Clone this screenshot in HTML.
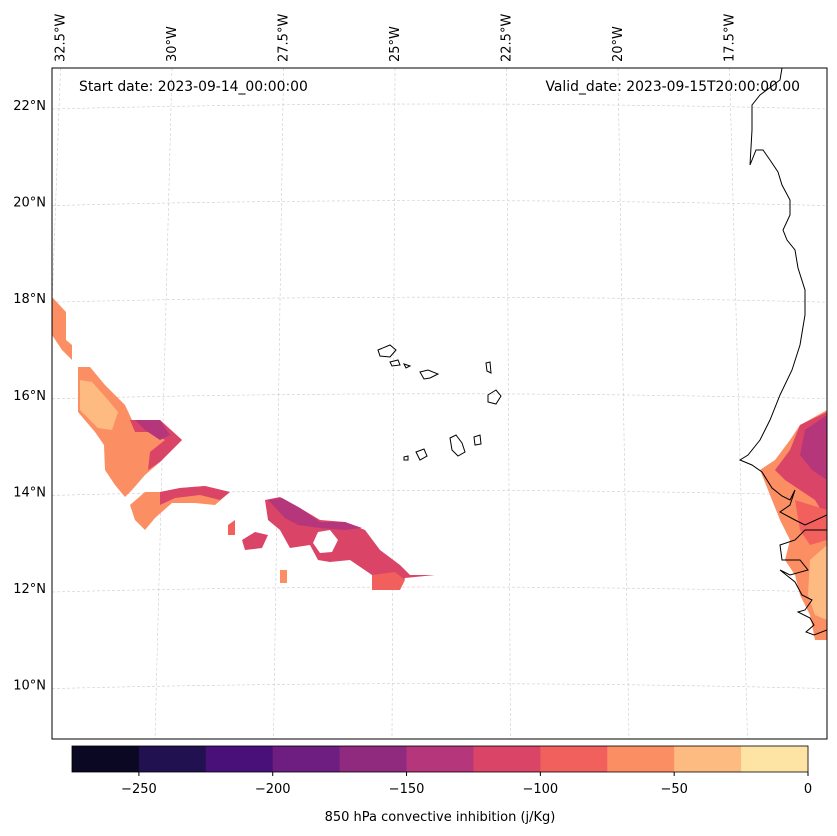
<!DOCTYPE html>
<html><head><meta charset="utf-8">
<style>
html,body{margin:0;padding:0;background:#fff;}
svg{display:block;font-family:"DejaVu Sans","Liberation Sans",sans-serif;}
</style></head>
<body>
<svg id="chart" width="837" height="836" viewBox="0 0 837 836" xmlns="http://www.w3.org/2000/svg">
<defs><clipPath id="mapclip"><rect x="52" y="68" width="775" height="671"/></clipPath></defs>
<rect x="0" y="0" width="837" height="836" fill="#fff"/>
<g id="grid" clip-path="url(#mapclip)" stroke="#ccc" stroke-width="0.6" stroke-dasharray="3,2" fill="none"></g>
<g id="fields" clip-path="url(#mapclip)">
 <polygon fill="#fc8e64" points="52,297 66,312 66,340 72,345 72,360 62,350 52,335"/>
 <polygon fill="#fc8e64" points="78,367 90,367 105,385 125,405 132,420 160,420 182,440 160,462 145,475 132,490 125,497 115,485 105,470 104,445 95,432 78,412"/>
 <polygon fill="#febb81" points="80,380 92,382 108,400 118,412 112,430 98,428 80,410"/>
 <polygon fill="#da4467" points="130,420 160,420 182,440 160,462 148,470 150,452 165,440 150,432 135,432"/>
 <polygon fill="#b5367a" points="135,420 160,420 170,435 160,440 145,430"/>
 <polygon fill="#fc8e64" points="130,505 145,492 160,492 180,488 205,486 230,492 215,505 195,503 172,503 155,518 145,530 135,520"/>
 <polygon fill="#da4467" points="160,492 180,488 205,486 230,492 220,500 200,495 175,498 160,505"/>
 <polygon fill="#da4467" points="265,500 280,497 300,508 320,520 345,522 365,530 380,550 400,565 410,575 435,575 405,578 400,588 372,590 372,575 350,560 330,562 318,560 310,545 290,548 280,530 268,520"/>
 <polygon fill="#b5367a" points="268,500 282,498 300,508 320,522 345,522 362,528 345,530 320,528 298,525 285,518"/>
 <polygon fill="#fff" points="318,532 330,530 338,540 332,552 320,553 313,543"/>
 <polygon fill="#f1605d" points="372,575 395,572 405,580 400,590 372,590"/>
 <polygon fill="#da4467" points="242,540 255,532 268,535 262,548 245,550"/>
 <polygon fill="#f1605d" points="228,525 235,520 235,535 228,535"/>
 <polygon fill="#fc8e64" points="280,570 287,570 287,583 280,583"/>
 <polygon fill="#fc8e64" points="800,425 827,410 827,640 815,640 810,615 800,595 795,575 785,560 790,540 780,520 770,495 760,470 775,460 790,440"/>
 <polygon fill="#da4467" points="800,425 827,412 827,520 815,500 800,490 785,480 775,470 790,450"/>
 <polygon fill="#b5367a" points="805,430 827,415 827,480 812,470 800,455"/>
 <polygon fill="#febb81" points="810,560 827,545 827,620 815,615 808,595"/>
 <polygon fill="#f1605d" points="795,500 827,510 827,540 810,545 800,530"/>
</g>
<g clip-path="url(#mapclip)" fill="none" stroke="#000" stroke-width="1">
 <polyline points="782,68 780,80 760,95 752,105 752,130 750,165 756,150 763,150 770,160 778,172 782,185 790,200 790,215 783,230 787,240 795,250 798,268 805,290 805,315 800,345 792,370 780,395 770,420 760,440 748,455 740,460 752,465 762,472 772,488 782,496 790,500 795,490 790,505 780,512 795,520 805,525 827,515"/>
 <polyline points="827,530 805,530 795,540 780,545 782,560 800,560 808,570 790,575 780,570 795,582 802,595 812,600 805,610 798,612 810,618 814,625 806,632 814,635 827,630"/>
 <polygon points="378,350 390,345 396,350 390,357 380,356"/>
 <polygon points="390,362 398,360 400,365 392,366"/>
 <polygon points="404,364 410,366 406,368"/>
 <polygon points="486,363 490,362 491,373 487,371"/>
 <polygon points="488,395 496,390 501,396 496,404 488,402"/>
 <polygon points="420,372 428,370 438,374 430,378 424,379"/>
 <polygon points="450,438 456,435 462,443 465,452 458,456 452,450"/>
 <polygon points="474,437 480,435 481,444 475,445"/>
 <polygon points="416,452 424,449 427,456 420,460"/>
 <polygon points="404,457 408,456 408,460 404,460"/>
</g>
<rect x="52" y="68" width="775" height="671" fill="none" stroke="#000" stroke-width="1"/>
<g id="lonlabels" font-size="13" fill="#000"></g>
<g id="latlabels" font-size="13" fill="#000"></g>
<text x="79" y="91" font-size="13.9">Start date: 2023-09-14_00:00:00</text>
<text x="800" y="91" font-size="13.9" text-anchor="end">Valid_date: 2023-09-15T20:00:00.00</text>
<g id="colorbar"></g>
<text x="440" y="821" font-size="13" text-anchor="middle">850 hPa convective inhibition (j/Kg)</text>
</svg>
<script>
const binEdges = [-275,-250,-225,-200,-175,-150,-125,-100,-75,-50,-25,0];
const binColors = ["#0a0822","#221150","#4a1079","#6e1e81","#8f2a7f","#b5367a","#da4467","#f1605d","#fc8e64","#febb81","#fde4a5"];
const cbTicks = [-250,-200,-150,-100,-50,0];
const latTicks = [22,20,18,16,14,12,10];
const lonTicks = [32.5,30,27.5,25,22.5,20,17.5];
const NS="http://www.w3.org/2000/svg";
function mk(tag,attrs,parent){const e=document.createElementNS(NS,tag);for(const k in attrs)e.setAttribute(k,attrs[k]);parent.appendChild(e);return e;}
const cbX = v => 72 + (v - (-275)) / 275 * (808 - 72);
const latY = lat => 105 + (22 - lat) * 48.3;
const lonTopX = lon => 172 + (30 - lon) * 44.6;
const lonBotX = lon => 155 + (30 - lon) * 47.4;
const cb=document.getElementById('colorbar');
for(let i=0;i<binColors.length;i++){
  const r=mk('rect',{x:cbX(binEdges[i]),y:746,width:cbX(binEdges[i+1])-cbX(binEdges[i])+0.5,height:26,fill:binColors[i]},cb);
  
  
}
mk('rect',{x:72,y:746,width:736,height:26,fill:'none',stroke:'#000','stroke-width':0.8},cb);
cbTicks.forEach(t=>{
  const x=cbX(t);
  mk('line',{x1:x,x2:x,y1:772,y2:776,stroke:'#000'},cb);
  const tx=mk('text',{x:x,y:793,'font-size':13,'text-anchor':'middle'},cb);
  tx.textContent=(t<0?'\u2212'+(-t):t);
  
  
});
const g=document.getElementById('grid');
latTicks.forEach(l=>{
  const y=latY(l);
  const p=mk('path',{d:`M52,${y+4} Q440,${y-6} 827,${y+4}`},g);
  
  
});
lonTicks.forEach(l=>{
  const p=mk('line',{x1:lonTopX(l),y1:68,x2:lonBotX(l),y2:739},g);
  
  
});
const ll=document.getElementById('latlabels');
latTicks.forEach(l=>{
  const t=mk('text',{x:46,y:latY(l)+5,'text-anchor':'end'},ll);
  t.textContent=l+'°N';
  
  
});
const lo=document.getElementById('lonlabels');
lonTicks.forEach(l=>{
  const x=lonTopX(l)+4;
  const t=mk('text',{x:x,y:62,transform:`rotate(-90 ${x} 62)`},lo);
  t.textContent=l+'°W';
  
  
});
</script>
</body></html>
